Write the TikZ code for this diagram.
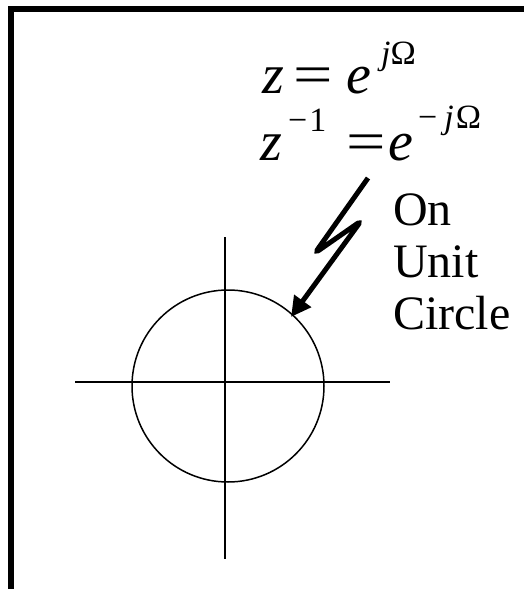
\documentclass[tikz,border=0pt]{standalone}
\usepackage{fontspec}
\setmainfont{Liberation Serif}
\usetikzlibrary{arrows.meta}
\begin{document}
\begin{tikzpicture}[x=1pt,y=-1pt,
  big/.style={inner sep=0pt,anchor=base west,font=\fontsize{56}{60}\selectfont},
  small/.style={inner sep=0pt,anchor=base west,font=\fontsize{34}{38}\selectfont},
  lbl/.style={inner sep=0pt,anchor=base west,font=\fontsize{48}{52}\selectfont},
  axis/.style={line width=1.8pt},
  bolt/.style={line width=5pt,rounded corners=5pt,-{Triangle[length=20pt,width=20pt]}}]
\useasboundingbox (0,0) rectangle (524,589);
% frame
\draw[line width=6pt,line join=miter] (11,592) -- (11,9) -- (527,9);
% axes and circle
\coordinate (hl) at (75,382);
\coordinate (hr) at (390,382);
\coordinate (vt) at (225,237);
\coordinate (vb) at (225,559);
\draw[axis] (hl) -- (hr);
\draw[axis] (vt) -- (vb);
\node[circle,draw,line width=1.5pt,minimum size=192pt,inner sep=0pt] (uc) at (228,386) {};
% equations
\node[big] (z1) at (262,93) {\itshape z};
\node[big] (q1) at (293,93) {\scalebox{1.25}[1]{=}};
\node[big] (e1) at (346,93) {\itshape e};
\node[small] (s1) at (381,64) {\itshape j\upshape Ω};
\node[big] (z2) at (260,160) {\itshape z};
\node[small] (s2) at (288,131) {−\hspace{2pt}1};
\node[big] (q2) at (346,160) {\scalebox{1.25}[1]{=}};
\node[big] (e2) at (388,160) {\itshape e};
\node[small] (s3) at (418,128) {−\hspace{7pt}\itshape j\hspace{2pt}\upshape Ω};
% labels
\node[lbl] (on) at (393,225) {On};
\node[lbl] (un) at (393,277) {Unit};
\node[lbl] (ci) at (393,329) {Circle};
% bolt arrow
\coordinate (p1) at (368,178);
\coordinate (p2) at (315,253);
\coordinate (p3) at (361,221);
\coordinate (tip) at (291,317);
\draw[bolt] (p1) -- (p2) -- (p3) -- (tip);
\end{tikzpicture}
\end{document}
